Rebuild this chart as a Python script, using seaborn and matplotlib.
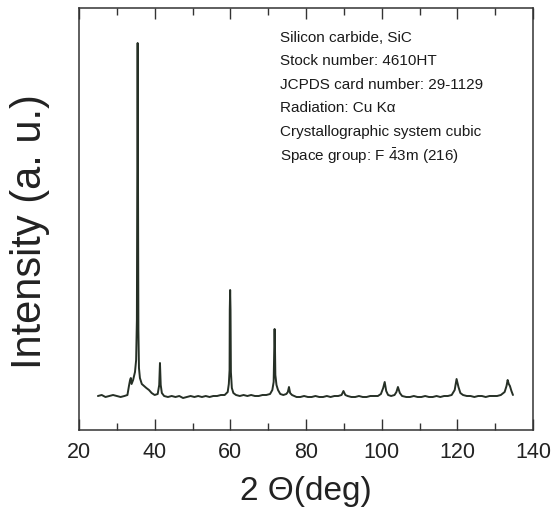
import matplotlib
matplotlib.use("Agg")
import matplotlib.pyplot as plt
import seaborn as sns
from matplotlib.ticker import MultipleLocator

# ---- data (intensity in arbitrary units) ----
two_theta = [
    25.0, 26.0, 27.0, 28.0, 29.0, 30.0, 31.0, 32.0, 32.8, 33.2, 33.5, 33.7, 33.9,
    34.3, 34.8, 35.1, 35.3, 35.4, 35.5, 35.6, 35.7, 35.85, 36.1, 36.6, 37.2, 37.8,
    38.5, 39.2, 40.0, 40.8, 41.2, 41.4, 41.6, 41.9, 42.5, 43.5, 44.5, 45.5, 46.5,
    47.5, 48.5, 49.5, 50.5, 51.5, 52.5, 53.5, 54.5, 55.5, 56.5, 57.5, 58.5, 59.3,
    59.6, 59.8, 59.85, 59.95, 60.05, 60.15, 60.4, 60.8, 61.5, 62.5, 63.5, 64.5,
    65.5, 66.5, 67.5, 68.5, 69.5, 70.5, 71.1, 71.45, 71.6, 71.7, 71.8, 71.9, 72.2,
    72.6, 73.2, 74.0, 74.8, 75.2, 75.5, 75.8, 76.3, 77.5, 78.5, 79.5, 80.5, 81.5,
    82.5, 83.5, 84.5, 85.5, 86.5, 87.5, 88.5, 89.4, 89.9, 90.4, 91.0, 92.0, 93.0,
    94.0, 95.0, 96.0, 97.0, 98.0, 99.0, 99.8, 100.4, 100.8, 101.2, 101.7, 102.5,
    103.4, 103.9, 104.3, 104.8, 105.4, 106.5, 107.5, 108.5, 109.5, 110.5, 111.5,
    112.5, 113.5, 114.5, 115.5, 116.5, 117.5, 118.5, 119.3, 119.8, 120.3, 120.8,
    121.5, 122.5, 123.5, 124.5, 125.5, 126.5, 127.5, 128.5, 129.5, 130.5, 131.5,
    132.5, 133.0, 133.3, 133.6, 133.9, 134.3, 134.7,
]
intensity = [
    34, 35, 33, 34, 35, 34, 33, 34, 35, 44, 50, 52, 46,
    50, 58, 70, 110, 237, 387, 237, 100, 62, 52, 46, 44, 42,
    40, 37, 35, 36, 45, 67, 45, 37, 34, 33, 34, 33, 34,
    32, 33, 34, 33, 34, 33, 34, 33, 34, 34, 35, 35, 38,
    46, 60, 120, 140, 120, 58, 42, 37, 35, 34, 35, 34,
    35, 34, 34, 35, 35, 36, 40, 48, 83, 101, 83, 55, 45,
    40, 36, 35, 36, 38, 43, 37, 35, 33, 33, 34, 33, 33,
    34, 33, 33, 34, 33, 34, 34, 35, 39, 35, 34, 33, 33,
    34, 33, 33, 34, 34, 34, 36, 42, 48, 39, 35, 34,
    35, 38, 43, 37, 34, 33, 33, 34, 33, 33, 34,
    33, 33, 34, 33, 34, 34, 35, 40, 51, 43, 37,
    35, 34, 34, 33, 34, 34, 33, 34, 34, 34, 35,
    38, 44, 50, 46, 44, 39, 35,
]

info_lines = [
    "Silicon carbide, SiC",
    "Stock number: 4610HT",
    "JCPDS card number: 29-1129",
    "Radiation: Cu K\u03b1",
    "Crystallographic system cubic",
    r"Space group: F $\bar{4}$3m (216)",
]

x_ticks = [20, 40, 60, 80, 100, 120, 140]

# ---- style ----
sns.set_style("white")
plt.rcParams["font.family"] = ["Liberation Sans", "DejaVu Sans"]
plt.rcParams["mathtext.fontset"] = "custom"
plt.rcParams["mathtext.rm"] = "Liberation Sans"
plt.rcParams["mathtext.it"] = "Liberation Sans"
plt.rcParams["mathtext.bf"] = "Liberation Sans"

W, H = 554, 515
fig = plt.figure(figsize=(W / 100, H / 100), dpi=100)
ax = fig.add_axes([79 / W, 1 - 430 / H, (533 - 79) / W, (430 - 8) / H])

sns.lineplot(x=two_theta, y=intensity, ax=ax, color="#263026", linewidth=1.4)

ax.set_xlim(20, 140)
ax.set_ylim(0, 422)
ax.set_xticks(x_ticks)
ax.xaxis.set_minor_locator(MultipleLocator(10))
ax.set_yticks([])

for s in ax.spines.values():
    s.set_color("#333333")
    s.set_linewidth(1.1)

ax.tick_params(axis="x", which="both", direction="in", top=True, bottom=True,
               color="#333333", width=1.0)
ax.tick_params(axis="x", which="major", length=8, pad=9)
ax.tick_params(axis="x", which="minor", length=5)
for lab in ax.get_xticklabels():
    lab.set_fontsize(15.5)
    lab.set_color("#222222")

ax.set_xlabel("2 \u0398(deg)", fontsize=24, color="#222222", labelpad=9)
ax.set_ylabel("Intensity (a. u.)", fontsize=30, color="#222222")
ax.yaxis.set_label_coords(-0.064, 0.47)

# info block: one line every ~23.4 px, first baseline ~42 px from the top of the image
for i, line in enumerate(info_lines):
    y_px = 42 + 23.4 * i + (2 if "$" in line else 0)
    ax.text(0.443, (430 - y_px) / 422, line, transform=ax.transAxes,
            ha="left", va="baseline", fontsize=11, color="#1a1a1a")

fig.savefig("out.png", dpi=100)
